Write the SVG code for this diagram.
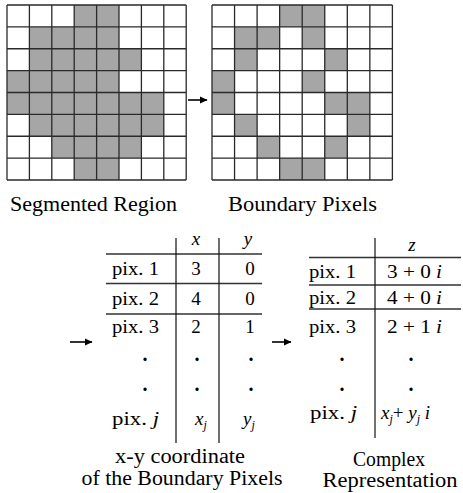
<svg xmlns="http://www.w3.org/2000/svg" width="463" height="493" viewBox="0 0 463 493">
<defs>
<marker id="ah" markerWidth="8" markerHeight="8" refX="7" refY="4" orient="auto" markerUnits="userSpaceOnUse"><path d="M0,0.5 L7.5,4 L0,7.5 Z" fill="#000"/></marker>
</defs>
<style>
.bg{fill:#fff}
.on{fill:#a6a6a6}
.grid{stroke:#2a2a2a;stroke-width:1.3;fill:none}
text{font-family:"Liberation Serif","Times New Roman",serif;fill:#000}
.lbl{font-size:20px}
.t{font-size:19px}
.it{font-style:italic}
.sub{font-size:12px;font-style:italic}
.m{text-anchor:middle}
.dot{font-weight:bold;font-size:20px}
.rule{stroke:#333;stroke-width:1.6;fill:none}
.vr{stroke:#111;stroke-width:1.2;fill:none}
.arr{stroke:#000;stroke-width:1.6;fill:none;marker-end:url(#ah)}
</style>
<rect width="463" height="493" fill="#fff"/>

<g id="segmented-region">
<rect class="bg" x="7" y="5" width="179.2" height="175"/>
<rect class="on" x="74.2" y="5" width="44.8" height="21.875"/>
<rect class="on" x="29.4" y="26.875" width="89.6" height="21.875"/>
<rect class="on" x="29.4" y="48.75" width="112" height="21.875"/>
<rect class="on" x="7" y="70.625" width="112" height="21.875"/>
<rect class="on" x="7" y="92.5" width="156.8" height="21.875"/>
<rect class="on" x="29.4" y="114.375" width="134.4" height="21.875"/>
<rect class="on" x="51.8" y="136.25" width="89.6" height="21.875"/>
<rect class="on" x="74.2" y="158.125" width="44.8" height="21.875"/>
<path class="grid" d="M7,5V180M29.4,5V180M51.8,5V180M74.2,5V180M96.6,5V180M119,5V180M141.4,5V180M163.8,5V180M186.2,5V180M7,5H186.2M7,26.875H186.2M7,48.75H186.2M7,70.625H186.2M7,92.5H186.2M7,114.375H186.2M7,136.25H186.2M7,158.125H186.2M7,180H186.2"/>
<text class="lbl" x="10" y="211" textLength="167" lengthAdjust="spacingAndGlyphs">Segmented Region</text>
</g>

<g id="boundary-pixels">
<rect class="bg" x="212" y="5" width="180.4" height="175"/>
<rect class="on" x="279.65" y="5" width="45.1" height="21.875"/>
<rect class="on" x="234.55" y="26.875" width="45.1" height="21.875"/>
<rect class="on" x="302.2" y="26.875" width="22.55" height="21.875"/>
<rect class="on" x="234.55" y="48.75" width="22.55" height="21.875"/>
<rect class="on" x="324.75" y="48.75" width="22.55" height="21.875"/>
<rect class="on" x="212" y="70.625" width="22.55" height="21.875"/>
<rect class="on" x="302.2" y="70.625" width="22.55" height="21.875"/>
<rect class="on" x="212" y="92.5" width="22.55" height="21.875"/>
<rect class="on" x="324.75" y="92.5" width="45.1" height="21.875"/>
<rect class="on" x="234.55" y="114.375" width="22.55" height="21.875"/>
<rect class="on" x="347.3" y="114.375" width="22.55" height="21.875"/>
<rect class="on" x="257.1" y="136.25" width="22.55" height="21.875"/>
<rect class="on" x="324.75" y="136.25" width="22.55" height="21.875"/>
<rect class="on" x="279.65" y="158.125" width="45.1" height="21.875"/>
<path class="grid" d="M212,5V180M234.55,5V180M257.1,5V180M279.65,5V180M302.2,5V180M324.75,5V180M347.3,5V180M369.85,5V180M392.4,5V180M212,5H392.4M212,26.875H392.4M212,48.75H392.4M212,70.625H392.4M212,92.5H392.4M212,114.375H392.4M212,136.25H392.4M212,158.125H392.4M212,180H392.4"/>
<text class="lbl" x="228" y="211" textLength="149" lengthAdjust="spacingAndGlyphs">Boundary Pixels</text>
</g>

<g id="xy-table">
<path class="rule" d="M106,254H262M106,283.5H262M106,314H262"/>
<path class="vr" d="M176,238V443M219,238V443"/>
<text class="t it m" x="196" y="245">x</text>
<text class="t it m" x="248" y="245">y</text>
<text class="t" x="112" y="275" textLength="47" lengthAdjust="spacingAndGlyphs">pix. 1</text>
<text class="t m" x="196" y="275">3</text>
<text class="t m" x="250" y="275">0</text>
<text class="t" x="112" y="304.5" textLength="47" lengthAdjust="spacingAndGlyphs">pix. 2</text>
<text class="t m" x="196" y="304.5">4</text>
<text class="t m" x="250" y="304.5">0</text>
<text class="t" x="112" y="333" textLength="47" lengthAdjust="spacingAndGlyphs">pix. 3</text>
<text class="t m" x="196" y="333">2</text>
<text class="t m" x="250" y="333">1</text>
<text class="dot m" x="145" y="361">.</text>
<text class="dot m" x="197" y="361">.</text>
<text class="dot m" x="251" y="361">.</text>
<text class="dot m" x="145" y="391">.</text>
<text class="dot m" x="197" y="391">.</text>
<text class="dot m" x="251" y="391">.</text>
<text class="t" x="112" y="425" textLength="47" lengthAdjust="spacingAndGlyphs">pix. <tspan class="it">j</tspan></text>
<text class="t m" x="201" y="425"><tspan class="it">x</tspan><tspan class="sub" dy="4">j</tspan></text>
<text class="t m" x="249" y="425"><tspan class="it">y</tspan><tspan class="sub" dy="4">j</tspan></text>
<text class="lbl m" x="180" y="463" textLength="130" lengthAdjust="spacingAndGlyphs">x-y coordinate</text>
<text class="lbl m" x="182" y="485" textLength="201" lengthAdjust="spacingAndGlyphs">of the Boundary Pixels</text>
</g>

<g id="complex-table">
<path class="rule" d="M309,257.5H461M309,285H461M309,309H461"/>
<path class="vr" d="M375,238V438"/>
<text class="t it m" x="412" y="251">z</text>
<text class="t" x="309" y="278" textLength="47" lengthAdjust="spacingAndGlyphs">pix. 1</text>
<text class="t" x="387" y="278" textLength="55" lengthAdjust="spacingAndGlyphs">3 + 0 <tspan class="it">i</tspan></text>
<text class="t" x="309" y="304" textLength="47" lengthAdjust="spacingAndGlyphs">pix. 2</text>
<text class="t" x="387" y="304" textLength="55" lengthAdjust="spacingAndGlyphs">4 + 0 <tspan class="it">i</tspan></text>
<text class="t" x="309" y="333" textLength="47" lengthAdjust="spacingAndGlyphs">pix. 3</text>
<text class="t" x="387" y="333" textLength="55" lengthAdjust="spacingAndGlyphs">2 + 1 <tspan class="it">i</tspan></text>
<text class="dot m" x="342" y="361">.</text>
<text class="dot m" x="411" y="361">.</text>
<text class="dot m" x="342" y="391">.</text>
<text class="dot m" x="411" y="391">.</text>
<text class="t" x="310" y="419" textLength="47" lengthAdjust="spacingAndGlyphs">pix. <tspan class="it">j</tspan></text>
<text class="t" x="381" y="419"><tspan class="it">x</tspan><tspan class="sub" dy="4">j</tspan><tspan dy="-4">+ </tspan><tspan class="it">y</tspan><tspan class="sub" dy="4">j</tspan><tspan dy="-4"> </tspan><tspan class="it">i</tspan></text>
<text class="lbl m" x="389" y="466" textLength="72" lengthAdjust="spacingAndGlyphs">Complex</text>
<text class="lbl m" x="390" y="487" textLength="135" lengthAdjust="spacingAndGlyphs">Representation</text>
</g>

<g id="connectors">
<line class="arr" x1="188" y1="100" x2="207" y2="100"/>
<line class="arr" x1="70" y1="342" x2="92" y2="342"/>
<line class="arr" x1="272" y1="342" x2="291" y2="342"/>
</g>
</svg>
